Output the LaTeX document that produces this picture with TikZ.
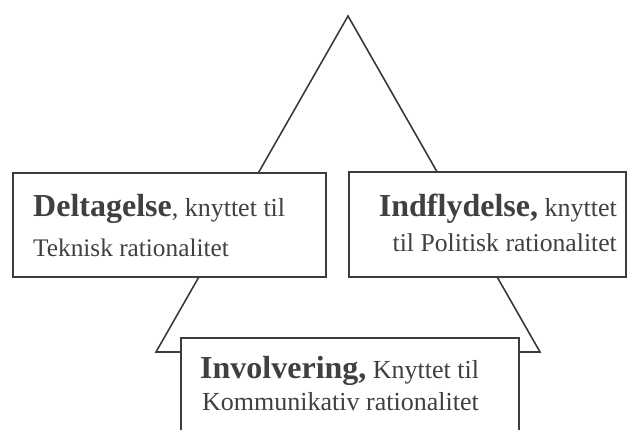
\documentclass[tikz,border=0pt]{standalone}
\usepackage{fontspec}
\setmainfont{Liberation Serif}
\definecolor{ink}{HTML}{3C3C3C}
\definecolor{txt}{HTML}{404040}
\newcommand{\bigb}[1]{{\fontsize{32}{36}\selectfont\bfseries #1}}
\begin{document}
\begin{tikzpicture}[x=1pt,y=1pt,
  box/.style={draw=ink,line width=1.6pt,fill=white,rectangle,inner sep=0pt,anchor=south west},
  lbl/.style={inner sep=0pt,text=txt,font=\fontsize{26}{30}\selectfont}]
\useasboundingbox (0,0) rectangle (628,430);
\clip (0,0) rectangle (628,430);
\coordinate (apex) at (348,414);
\coordinate (bl) at (156,78);
\coordinate (br) at (540,78);
\draw[ink,line width=1.6pt,line join=miter] (apex) -- (bl) -- (br) -- cycle;
\node[box,minimum width=313pt,minimum height=104pt] (left) at (12,152) {};
\node[box,minimum width=277pt,minimum height=105pt] (right) at (348,152) {};
\node[box,minimum width=338pt,minimum height=120pt] (bottom) at (180,-29) {};
\node[lbl,anchor=base west] (l1) at (33,213) {\bigb{Deltagelse}, knyttet til};
\node[lbl,anchor=base west,font=\fontsize{25.3}{30}\selectfont] (l2) at (33,173) {Teknisk rationalitet};
\node[lbl,anchor=base east] (r1) at (617,213) {\bigb{Indflydelse,} knyttet};
\node[lbl,anchor=base east,font=\fontsize{25.7}{30}\selectfont] (r2) at (617,178) {til Politisk rationalitet};
\node[lbl,anchor=base west] (b1) at (200,51) {\bigb{Involvering,} Knyttet til};
\node[lbl,anchor=base west] (b2) at (202,19) {Kommunikativ rationalitet};
\end{tikzpicture}
\end{document}
